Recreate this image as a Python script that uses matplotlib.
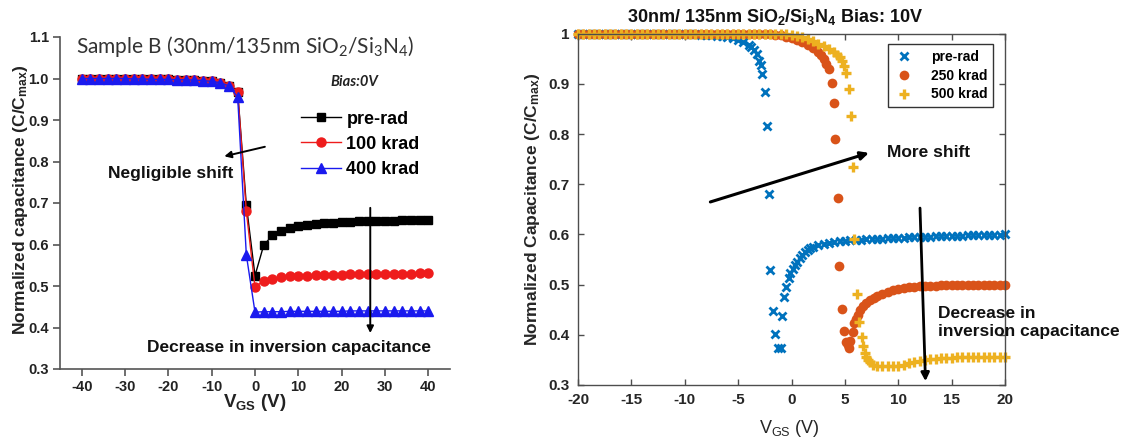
import matplotlib
matplotlib.use("Agg")
import matplotlib.pyplot as plt

# --------------------------------------------------
# Data: left panel (Sample B, Bias 0V)
# --------------------------------------------------
left_vgs = [-40, -38, -36, -34, -32, -30, -28, -26, -24, -22, -20, -18, -16, -14,
            -12, -10, -8, -6, -4, -2, 0, 2, 4, 6, 8, 10, 12, 14, 16, 18, 20, 22,
            24, 26, 28, 30, 32, 34, 36, 38, 40]
left_prerad = [1.000, 1.000, 1.000, 1.000, 1.000, 0.999, 0.999, 0.999, 0.998, 0.998,
               0.998, 0.997, 0.997, 0.996, 0.995, 0.993, 0.990, 0.983, 0.968, 0.695,
               0.525, 0.598, 0.622, 0.632, 0.640, 0.645, 0.648, 0.650, 0.652, 0.653,
               0.654, 0.655, 0.656, 0.656, 0.657, 0.657, 0.657, 0.658, 0.658, 0.658, 0.658]
left_100krad = [1.000, 1.000, 1.000, 1.000, 1.000, 0.999, 0.999, 0.999, 0.998, 0.998,
                0.998, 0.997, 0.997, 0.996, 0.995, 0.993, 0.990, 0.983, 0.968, 0.680,
                0.497, 0.513, 0.518, 0.521, 0.523, 0.524, 0.525, 0.526, 0.526, 0.527,
                0.527, 0.528, 0.528, 0.529, 0.529, 0.529, 0.530, 0.530, 0.530, 0.531, 0.531]
left_400krad = [1.000, 1.000, 1.000, 1.000, 1.000, 1.000, 0.999, 0.999, 0.998, 0.998,
                0.998, 0.997, 0.997, 0.996, 0.995, 0.993, 0.990, 0.982, 0.955, 0.575,
                0.437, 0.438, 0.438, 0.438, 0.439, 0.439, 0.439, 0.439, 0.439, 0.439,
                0.439, 0.440, 0.440, 0.440, 0.440, 0.440, 0.440, 0.440, 0.440, 0.440, 0.440]
left_labels = ["pre-rad", "100 krad", "400 krad"]

# --------------------------------------------------
# Data: right panel (Bias 10V)
# --------------------------------------------------
pre_v = [-20, -19.5, -19, -18.5, -18, -17.5, -17, -16.5, -16, -15.5, -15, -14.5, -14,
         -13.5, -13, -12.5, -12, -11.5, -11, -10.5, -10,
         -9.5, -9, -8.5, -8, -7.5, -7, -6.5, -6, -5.5, -5, -4.5, -4,
         -3.75, -3.5, -3.25, -3.0, -2.9,
         -2.75, -2.44, -2.29, -2.1, -1.97, -1.72, -1.53, -1.22, -1.03, -0.88, -0.69,
         -0.47, -0.28, -0.1,
         0.1, 0.3, 0.5, 0.75, 1.0, 1.25, 1.5, 1.75, 2.0,
         2.5, 3.0, 3.5, 4.0, 4.5, 5.0, 5.5, 6.0, 6.5, 7.0, 7.5, 8.0, 8.5, 9.0, 9.5, 10.0,
         10.5, 11.0, 11.5, 12.0, 12.5, 13.0, 13.5, 14.0, 14.5, 15.0, 15.5, 16.0, 16.5,
         17.0, 17.5, 18.0, 18.5, 19.0, 19.5, 20.0]
pre_c = [1.0, 1.0, 1.0, 1.0, 1.0, 1.0, 1.0, 1.0, 1.0, 1.0, 1.0, 1.0, 1.0,
         1.0, 1.0, 1.0, 1.0, 1.0, 1.0, 1.0, 1.0,
         0.999, 0.999, 0.998, 0.998, 0.997, 0.996, 0.995, 0.993, 0.991, 0.987, 0.983, 0.977,
         0.973, 0.967, 0.959, 0.946, 0.937,
         0.919, 0.883, 0.815, 0.681, 0.529, 0.448, 0.402, 0.374, 0.374, 0.437, 0.475,
         0.495, 0.513, 0.523,
         0.532, 0.540, 0.546, 0.553, 0.559, 0.564, 0.568, 0.572, 0.574,
         0.578, 0.581, 0.583, 0.585, 0.586, 0.587, 0.588, 0.589, 0.589, 0.590, 0.590, 0.591,
         0.591, 0.592, 0.592, 0.593,
         0.593, 0.594, 0.594, 0.595, 0.595, 0.595, 0.596, 0.596, 0.596, 0.597, 0.597, 0.597,
         0.598, 0.598, 0.598, 0.598, 0.599, 0.599, 0.599, 0.600]

k250_v = [-20, -19.5, -19, -18.5, -18, -17.5, -17, -16.5, -16, -15.5, -15, -14.5, -14,
          -13.5, -13, -12.5, -12, -11.5, -11, -10.5, -10, -9.5, -9, -8.5, -8, -7.5, -7,
          -6.5, -6, -5.5, -5, -4.5, -4, -3.5, -3, -2.5,
          -2, -1.5, -1, -0.5, 0, 0.5, 1.0, 1.5, 2.0, 2.5, 2.75, 3.0, 3.25,
          3.53, 3.78, 3.97, 4.12, 4.34, 4.46, 4.69, 4.9, 5.1, 5.25, 5.35, 5.45, 5.72, 5.84,
          6.0, 6.2, 6.4, 6.7, 7.0, 7.34, 7.7, 8.0, 8.5, 9.0, 9.5, 10.0, 10.5, 11.0, 11.5,
          12.0, 12.5, 13.0, 13.5, 14.0, 14.5, 15.0, 15.5, 16.0, 16.5, 17.0, 17.5, 18.0,
          18.5, 19.0, 19.5, 20.0]
k250_c = [1.0, 1.0, 1.0, 1.0, 1.0, 1.0, 1.0, 1.0, 1.0, 1.0, 1.0, 1.0, 1.0,
          1.0, 1.0, 1.0, 1.0, 1.0, 1.0, 1.0, 1.0, 1.0, 1.0, 1.0, 1.0, 1.0, 1.0,
          1.0, 1.0, 1.0, 1.0, 1.0, 1.0, 1.0, 1.0, 1.0,
          0.999, 0.998, 0.997, 0.994, 0.991, 0.987, 0.983, 0.978, 0.972, 0.964, 0.958, 0.950, 0.940,
          0.929, 0.902, 0.861, 0.790, 0.672, 0.538, 0.451, 0.408, 0.385, 0.380, 0.374, 0.388, 0.406, 0.423,
          0.431, 0.440, 0.449, 0.457, 0.464, 0.469, 0.474, 0.478, 0.482, 0.486, 0.489, 0.491, 0.493, 0.495, 0.496,
          0.497, 0.497, 0.498, 0.498, 0.499, 0.499, 0.500, 0.500, 0.500, 0.500, 0.500, 0.500, 0.500,
          0.500, 0.500, 0.500, 0.500]

k500_v = [-20, -19.5, -19, -18.5, -18, -17.5, -17, -16.5, -16, -15.5, -15, -14.5, -14,
          -13.5, -13, -12.5, -12, -11.5, -11, -10.5, -10, -9.5, -9, -8.5, -8, -7.5, -7,
          -6.5, -6, -5.5, -5, -4.5, -4, -3.5, -3, -2.5, -2, -1.5, -1,
          -0.5, 0, 0.5, 1.0, 1.5, 2.0, 2.5, 3.0, 3.5, 4.0, 4.3, 4.5, 4.69, 4.9,
          5.09, 5.34, 5.56, 5.75, 5.9, 6.09, 6.34, 6.56, 6.72, 6.88, 7.0, 7.19, 7.4, 7.65,
          8.0, 8.5, 9.0, 9.5, 10.0, 10.5, 11.0, 11.5, 12.0, 12.5, 13.0, 13.5, 14.0, 14.5,
          15.0, 15.5, 16.0, 16.5, 17.0, 17.5, 18.0, 18.5, 19.0, 19.5, 20.0]
k500_c = [1.0, 1.0, 1.0, 1.0, 1.0, 1.0, 1.0, 1.0, 1.0, 1.0, 1.0, 1.0, 1.0,
          1.0, 1.0, 1.0, 1.0, 1.0, 1.0, 1.0, 1.0, 1.0, 1.0, 1.0, 1.0, 1.0, 1.0,
          1.0, 1.0, 1.0, 1.0, 1.0, 1.0, 1.0, 1.0, 1.0, 1.0, 1.0, 1.0,
          0.999, 0.998, 0.996, 0.993, 0.989, 0.985, 0.980, 0.976, 0.970, 0.964, 0.958, 0.953, 0.946, 0.936,
          0.922, 0.890, 0.836, 0.735, 0.590, 0.481, 0.426, 0.396, 0.378, 0.363, 0.356, 0.350, 0.345, 0.340,
          0.338, 0.337, 0.337, 0.337, 0.338, 0.340, 0.343, 0.346, 0.348, 0.350, 0.351, 0.352, 0.353, 0.354,
          0.354, 0.355, 0.355, 0.355, 0.355, 0.356, 0.356, 0.356, 0.356, 0.356, 0.356]
right_labels = ["pre-rad", "250 krad", "500 krad"]

left_yticks = [0.3, 0.4, 0.5, 0.6, 0.7, 0.8, 0.9, 1.0, 1.1]
left_xticks = [-40, -30, -20, -10, 0, 10, 20, 30, 40]
right_yticks = [0.3, 0.4, 0.5, 0.6, 0.7, 0.8, 0.9, 1.0]
right_yticklabels = ["0.3", "0.4", "0.5", "0.6", "0.7", "0.8", "0.9", "1"]
right_xticks = [-20, -15, -10, -5, 0, 5, 10, 15, 20]

# --------------------------------------------------
# Figure
# --------------------------------------------------
plt.rcParams["font.family"] = ["Liberation Sans", "DejaVu Sans"]
plt.rcParams["mathtext.default"] = "regular"
plt.rcParams["axes.unicode_minus"] = False

fig = plt.figure(figsize=(11.22, 4.41), dpi=100)
W, H = 1122, 441

def px_axes(left, top, right, bottom):
    return fig.add_axes([left / W, 1 - bottom / H, (right - left) / W, (bottom - top) / H])

# ---------------- left panel ----------------
axL = px_axes(60, 37, 450, 369)
axL.plot(left_vgs, left_prerad, "-s", color="black", lw=1.0, ms=6, label=left_labels[0])
axL.plot(left_vgs, left_100krad, "-o", color="#ee1c1c", lw=1.0, ms=6.5, label=left_labels[1])
axL.plot(left_vgs, left_400krad, "-^", color="#1a1aee", lw=1.0, ms=6.5, label=left_labels[2])
axL.set_xlim(-45, 45)
axL.set_ylim(0.3, 1.1)
axL.set_xticks(left_xticks)
axL.set_yticks(left_yticks)
axL.set_yticklabels([f"{v:.1f}" for v in left_yticks])
for s in ["top", "right"]:
    axL.spines[s].set_visible(False)
for s in ["left", "bottom"]:
    axL.spines[s].set_color("#555555")
    axL.spines[s].set_linewidth(1.2)
axL.tick_params(direction="out", length=5, width=1.2, color="#555555",
                labelsize=10.5, pad=3)
for lab in axL.get_xticklabels() + axL.get_yticklabels():
    lab.set_fontweight("bold")
    lab.set_color("#222222")
axL.set_xlabel("V$_{GS}$ (V)", fontsize=13.5, fontweight="bold", color="#222222")
axL.xaxis.set_label_coords(0.5, -0.07)
axL.set_ylabel("Normalized capacitance (C/C$_{max}$)", fontsize=12.5, fontweight="bold",
               color="#222222")
axL.yaxis.set_label_coords(-0.078, 0.51)

axL.text(-2.2, 1.076, "Sample B (30nm/135nm SiO$_2$/Si$_3$N$_4$)", family="Lato",
         fontsize=15, ha="center", va="center", color="#333333")
axL.text(22.9, 0.992, "Bias:0V", family="Lato", fontsize=10.5, fontweight="bold",
         style="italic", ha="center", va="center", color="#222222")
axL.legend(loc="upper left", bbox_to_anchor=(0.6, 0.80), frameon=False,
           prop={"weight": "bold", "size": 13}, handlelength=2.2, handletextpad=0.3,
           labelspacing=0.45, borderaxespad=0)
axL.annotate("", xy=(-7.7, 0.811), xytext=(2.9, 0.837),
             arrowprops=dict(arrowstyle="-|>", color="black", lw=1.4, mutation_scale=10))
axL.text(-34.0, 0.772, "Negligible shift", fontsize=12.5, fontweight="bold",
         ha="left", va="center", color="#111111")
axL.annotate("", xy=(26.6, 0.38), xytext=(26.6, 0.695),
             arrowprops=dict(arrowstyle="-|>", color="black", lw=1.4, mutation_scale=10))
axL.text(7.8, 0.351, "Decrease in inversion capacitance", fontsize=12.5,
         fontweight="bold", ha="center", va="center", color="#111111")

# ---------------- right panel ----------------
axR = px_axes(578, 33.6, 1005, 385)
c_pre, c_250, c_500 = "#0072BD", "#D95319", "#EDB120"
axR.plot(pre_v, pre_c, ls="none", marker="x", color=c_pre, ms=6, mew=2.0,
         clip_on=False, label=right_labels[0])
axR.plot(k250_v, k250_c, ls="none", marker="o", color=c_250, ms=7, mew=0,
         clip_on=False, label=right_labels[1])
axR.plot(k500_v, k500_c, ls="none", marker="+", color=c_500, ms=7.5, mew=2.4,
         clip_on=False, label=right_labels[2])
axR.set_xlim(-20, 20)
axR.set_ylim(0.3, 1.0)
axR.set_xticks(right_xticks)
axR.set_yticks(right_yticks)
axR.set_yticklabels(right_yticklabels)
for s in axR.spines.values():
    s.set_color("#4d4d4d")
    s.set_linewidth(1.0)
axR.tick_params(direction="in", length=4, width=1.0, color="#4d4d4d", top=True,
                right=True, labelsize=11, pad=6)
for lab in axR.get_xticklabels() + axR.get_yticklabels():
    lab.set_fontweight("bold")
    lab.set_color("#262626")
axR.set_xlabel("V$_{GS}$ (V)", fontsize=13, color="#262626")
axR.xaxis.set_label_coords(0.496, -0.094)
axR.set_ylabel("Normalized Capacitance (C/C$_{max}$)", fontsize=12.5, fontweight="bold",
               color="#262626")
axR.yaxis.set_label_coords(-0.085, 0.5)
axR.text(0.461, 1.047, "30nm/ 135nm SiO$_2$/Si$_3$N$_4$ Bias: 10V", transform=axR.transAxes,
         fontsize=13, fontweight="bold", ha="center", va="center", color="#111111")
axR.legend(loc="upper right", bbox_to_anchor=(0.972, 0.97), frameon=True, fancybox=False,
           edgecolor="#333333", framealpha=1, prop={"weight": "bold", "size": 10},
           handlelength=1.5, handletextpad=1.2, labelspacing=0.35, borderaxespad=0)
axR.annotate("", xy=(7.5, 0.764), xytext=(-7.85, 0.663),
             arrowprops=dict(arrowstyle="-|>", color="black", lw=2.2, mutation_scale=12))
axR.text(8.9, 0.764, "More shift", fontsize=12.5, fontweight="bold", ha="left",
         va="center", color="#111111")
axR.annotate("", xy=(12.56, 0.302), xytext=(12.03, 0.658),
             arrowprops=dict(arrowstyle="-|>", color="black", lw=2.0, mutation_scale=12))
axR.text(13.7, 0.425, "Decrease in\ninversion capacitance", fontsize=12.5,
         fontweight="bold", ha="left", va="center", color="#111111", linespacing=1.25)

fig.savefig("out.png", dpi=100)
